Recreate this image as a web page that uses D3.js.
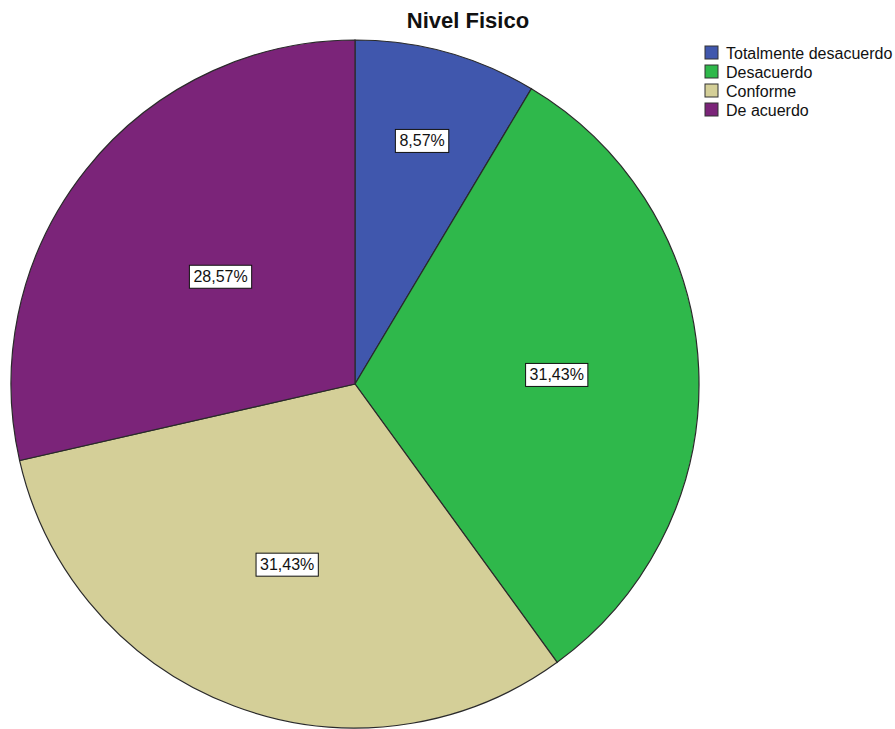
<!DOCTYPE html>
<html>
<head>
<meta charset="utf-8">
<script src="https://cdn.jsdelivr.net/npm/d3@7"></script>
<style>
  html, body { margin: 0; padding: 0; background: #fff; }
  svg { display: block; font-family: "Liberation Sans", Arial, sans-serif; }
</style>
</head>
<body>
<svg id="chart" width="895" height="729"></svg>
<script>
const title = "Nivel Fisico";
const categories = ["Totalmente desacuerdo", "Desacuerdo", "Conforme", "De acuerdo"];
const percents = [8.57, 31.43, 31.43, 28.57];
const labels = ["8,57%", "31,43%", "31,43%", "28,57%"];
const colors = ["#4057ad", "#2fb84b", "#d4cf98", "#7b2479"];

const W = 895, H = 729;
const cx = 355, cy = 384, R = 344;
const labelRadiusFactor = [0.733, 0.587, 0.561, 0.5];

const svg = d3.select("#chart");

const pie = d3.pie().sort(null).value(d => d)(percents);
const arc = d3.arc().innerRadius(0).outerRadius(R);

const g = svg.append("g").attr("transform", `translate(${cx},${cy})`);

g.selectAll("path.slice")
  .data(pie)
  .enter().append("path")
  .attr("class", "slice")
  .attr("d", arc)
  .attr("fill", (d, i) => colors[i])
  .attr("stroke", "#2a2a2a")
  .attr("stroke-width", 1.2);

// labels
const lab = g.selectAll("g.lab")
  .data(pie)
  .enter().append("g")
  .attr("class", "lab")
  .attr("transform", (d, i) => {
    const r = R * labelRadiusFactor[i];
    const c = d3.arc().innerRadius(r).outerRadius(r).centroid(d);
    return `translate(${c[0]},${c[1]})`;
  });

lab.each(function(d, i) {
  const sel = d3.select(this);
  const t = sel.append("text")
    .attr("text-anchor", "middle")
    .attr("dominant-baseline", "central")
    .attr("font-size", 16)
    .attr("fill", "#111")
    .text(labels[i]);
  const bb = t.node().getBBox();
  sel.insert("rect", "text")
    .attr("x", bb.x - 4)
    .attr("y", bb.y - 3)
    .attr("width", bb.width + 8)
    .attr("height", bb.height + 6)
    .attr("fill", "#fff")
    .attr("stroke", "#111")
    .attr("stroke-width", 1);
});

// title
svg.append("text")
  .attr("x", 468)
  .attr("y", 28)
  .attr("text-anchor", "middle")
  .attr("font-size", 22)
  .attr("font-weight", "bold")
  .attr("fill", "#111")
  .text(title);

// legend
const leg = svg.append("g").attr("transform", "translate(705,46)");
const rows = leg.selectAll("g.row")
  .data(categories)
  .enter().append("g")
  .attr("class", "row")
  .attr("transform", (d, i) => `translate(0,${i * 19})`);
rows.append("rect")
  .attr("width", 13).attr("height", 13)
  .attr("fill", (d, i) => colors[i])
  .attr("stroke", "#333").attr("stroke-width", 1);
rows.append("text")
  .attr("x", 21).attr("y", 7)
  .attr("dominant-baseline", "central")
  .attr("font-size", 16)
  .attr("fill", "#111")
  .text(d => d);
</script>
</body>
</html>
